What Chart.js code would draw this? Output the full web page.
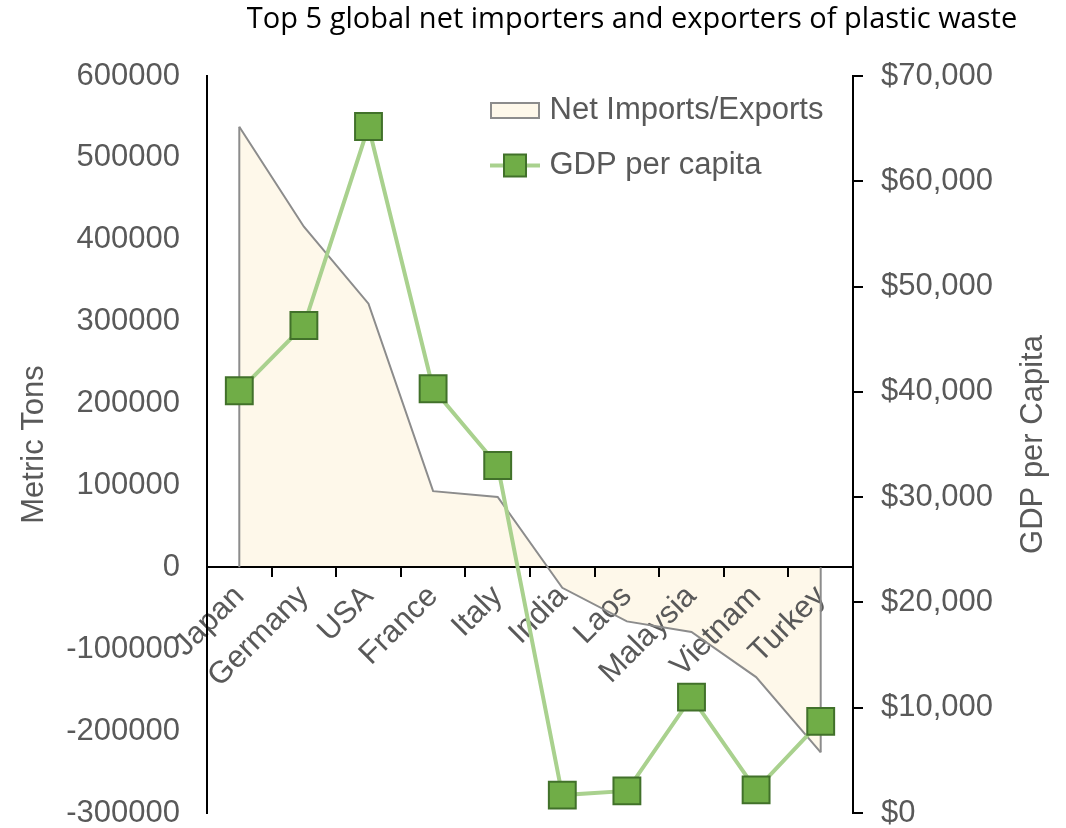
<!DOCTYPE html>
<html>
<head>
<meta charset="utf-8">
<script src="https://cdn.jsdelivr.net/npm/chart.js@4.4.0/dist/chart.umd.min.js"></script>
<style>
  html, body { margin: 0; padding: 0; background: #fff; overflow: hidden; }
  #wrap { width: 1066px; height: 834px; }
</style>
</head>
<body>
<div id="wrap"><canvas id="chart" width="1066" height="834"></canvas></div>
<script>
// datos
const countries = ["Japan", "Germany", "USA", "France", "Italy", "India", "Laos", "Malaysia", "Vietnam", "Turkey"];
const netTrade = [538000, 416000, 322000, 93000, 86000, -25000, -66000, -79000, -134000, -226000];
const gdpPerCapita = [40100, 46300, 65200, 40300, 33000, 1700, 2100, 11000, 2200, 8700];

const tonsRange = { min: -300000, max: 600000, step: 100000 };
const gdpRange = { min: 0, max: 70000, step: 10000 };

const chartTitle = "Top 5 global net importers and exporters of plastic waste";
const leftTitle = "Metric Tons";
const rightTitle = "GDP per Capita";

const FONT = "'Liberation Sans', Arial, sans-serif";
const GREY = "#595959";
const CREAM = "#FEF8EA";
const AREA_LINE = "#8C8C8C";
const GREEN_LINE = "#A9D18E";
const GREEN = "#70AD47";
const GREEN_DARK = "#41712A";

// iconos de la leyenda
function areaIcon() {
    const c = document.createElement("canvas");
    c.width = 50; c.height = 17;
    const g = c.getContext("2d");
    g.fillStyle = CREAM;
    g.fillRect(1, 1, 48, 15);
    g.strokeStyle = AREA_LINE;
    g.lineWidth = 2;
    g.strokeRect(1, 1, 48, 15);
    return c;
}

function lineIcon() {
    const c = document.createElement("canvas");
    c.width = 50; c.height = 26;
    const g = c.getContext("2d");
    g.strokeStyle = GREEN_LINE;
    g.lineWidth = 4;
    g.beginPath(); g.moveTo(0, 13); g.lineTo(50, 13); g.stroke();
    g.fillStyle = GREEN;
    g.fillRect(14, 2, 22, 22);
    g.strokeStyle = GREEN_DARK;
    g.lineWidth = 2;
    g.strokeRect(14, 2, 22, 22);
    return c;
}
const legendIcons = [areaIcon(), lineIcon()];

// bordes verticales del área (inicio y fin)
const areaEdges = {
    id: "areaEdges",
    afterDatasetDraw(chart, args) {
        if (args.index !== 0) return;
        const pts = args.meta.data;
        const zero = chart.scales.y.getPixelForValue(0);
        const ctx = chart.ctx;
        ctx.save();
        ctx.strokeStyle = AREA_LINE;
        ctx.lineWidth = 2;
        [pts[0], pts[pts.length - 1]].forEach(p => {
            ctx.beginPath();
            ctx.moveTo(p.x, p.y);
            ctx.lineTo(p.x, zero);
            ctx.stroke();
        });
        ctx.restore();
    }
};

// leyenda dentro del área del gráfico
const legendPlace = {
    id: "legendPlace",
    afterLayout(chart) {
        const lg = chart.legend;
        lg.left = chart.chartArea.left + 265;
        lg.top = chart.chartArea.top - 5;
    }
};

// título principal y título del eje derecho
const extraText = {
    id: "extraText",
    afterDraw(chart) {
        const ctx = chart.ctx;
        const area = chart.chartArea;
        ctx.save();
        ctx.fillStyle = "#000";
        ctx.font = "29px 'Open Sans', sans-serif";
        ctx.textAlign = "center";
        ctx.textBaseline = "middle";
        ctx.fillText(chartTitle, 632, 20);

        ctx.fillStyle = GREY;
        ctx.font = "31px " + FONT;
        ctx.translate(1033, (area.top + area.bottom) / 2);
        ctx.rotate(-Math.PI / 2);
        ctx.fillText(rightTitle, 0, 0);
        ctx.restore();
    }
};

// sin relleno extra arriba/abajo por las etiquetas de los ejes
function fixWidth(w) {
    return scale => {
        if (w) scale.width = w;
        scale.paddingTop = 0;
        scale.paddingBottom = 0;
    };
}

new Chart(document.getElementById("chart"), {
    type: "line",
    data: {
        labels: countries,
        datasets: [
            {
                label: "Net Imports/Exports",
                data: netTrade,
                yAxisID: "y",
                fill: "origin",
                backgroundColor: CREAM,
                borderColor: AREA_LINE,
                borderWidth: 2,
                pointRadius: 0,
                tension: 0,
                order: 2
            },
            {
                label: "GDP per capita",
                data: gdpPerCapita,
                yAxisID: "y1",
                fill: false,
                borderColor: GREEN_LINE,
                borderWidth: 4,
                pointStyle: "rect",
                pointRadius: 19,
                pointHoverRadius: 19,
                pointBackgroundColor: GREEN,
                pointBorderColor: GREEN_DARK,
                pointBorderWidth: 2,
                tension: 0,
                order: 1
            }
        ]
    },
    options: {
        responsive: false,
        animation: false,
        devicePixelRatio: 1,
        layout: { padding: { top: 76, bottom: 17, left: 0, right: 0 } },
        plugins: {
            filler: { drawTime: "beforeDraw" },
            tooltip: { enabled: false },
            title: { display: false },
            legend: {
                position: "chartArea",
                fullSize: false,
                align: "start",
                labels: {
                    usePointStyle: true,
                    pointStyleWidth: 38,
                    padding: 24,
                    color: GREY,
                    font: { family: FONT, size: 31 },
                    generateLabels(chart) {
                        return chart.data.datasets.map((ds, i) => ({
                            text: ds.label,
                            pointStyle: legendIcons[i],
                            fillStyle: "transparent",
                            strokeStyle: "transparent",
                            lineWidth: 0,
                            fontColor: GREY,
                            hidden: false,
                            datasetIndex: i
                        }));
                    }
                }
            }
        },
        scales: {
            x: {
                type: "category",
                position: { y: 0 },
                offset: true,
                afterFit: fixWidth(0),
                grid: {
                    offset: true,
                    drawOnChartArea: false,
                    drawTicks: true,
                    tickLength: 9,
                    color: "#000",
                    lineWidth: 2
                },
                border: { display: true, color: "#000", width: 2 },
                ticks: {
                    autoSkip: false,
                    minRotation: 45,
                    maxRotation: 45,
                    padding: 2,
                    color: GREY,
                    font: { family: FONT, size: 31 }
                }
            },
            y: {
                position: "left",
                min: tonsRange.min,
                max: tonsRange.max,
                afterFit: fixWidth(207),
                grid: { drawOnChartArea: false, drawTicks: false },
                border: { display: true, color: "#000", width: 2 },
                ticks: {
                    stepSize: tonsRange.step,
                    padding: 27,
                    color: GREY,
                    font: { family: FONT, size: 31, lineHeight: 1 },
                    callback: v => String(v)
                },
                title: {
                    display: true,
                    text: leftTitle,
                    color: GREY,
                    font: { family: FONT, size: 31 },
                    padding: { top: 16, bottom: 0 }
                }
            },
            y1: {
                position: "right",
                min: gdpRange.min,
                max: gdpRange.max,
                afterFit: fixWidth(213),
                grid: {
                    drawOnChartArea: false,
                    drawTicks: true,
                    tickLength: 10,
                    color: "#000",
                    lineWidth: 2
                },
                border: { display: true, color: "#000", width: 2 },
                ticks: {
                    stepSize: gdpRange.step,
                    padding: 18,
                    color: GREY,
                    font: { family: FONT, size: 31, lineHeight: 1 },
                    callback: v => "$" + v.toLocaleString("en-US")
                }
            }
        }
    },
    plugins: [areaEdges, legendPlace, extraText]
});
</script>
</body>
</html>
